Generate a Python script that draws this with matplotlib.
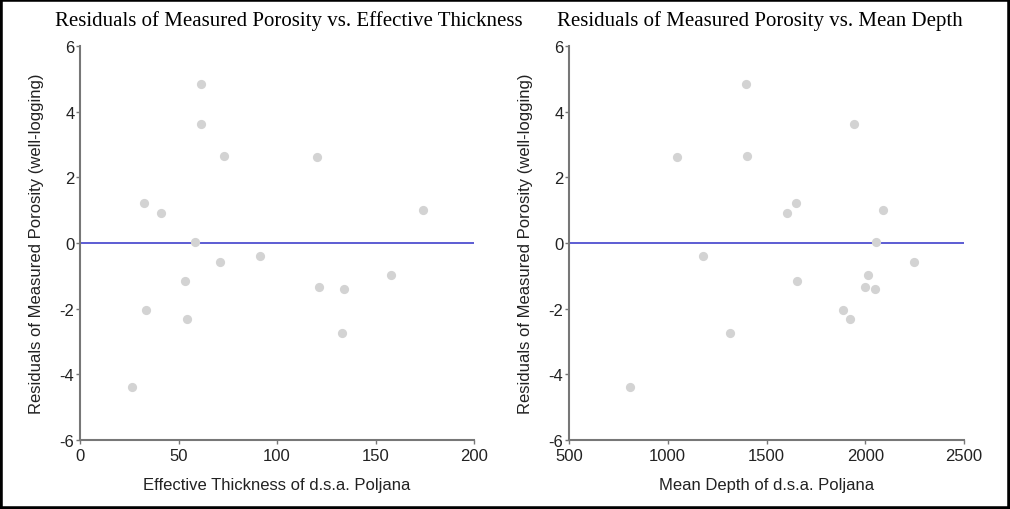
import numpy as np
import matplotlib
matplotlib.use('Agg')
import matplotlib.pyplot as plt
from matplotlib.patches import Rectangle

plt.rcParams['axes.unicode_minus'] = False

# data (one point per well, same residuals in both panels)
thickness = [61.3, 61.3, 73.3, 120.1, 32.3, 41.3, 174.1, 58.2, 71.2, 91.2,
             53.1, 121.2, 134.0, 158.0, 33.3, 54.1, 133.2, 26.4]
depth = [1395, 1945, 1403, 1048, 1649, 1605, 2091, 2053, 2248, 1180,
         1656, 1997, 2049, 2016, 1887, 1921, 1317, 809]
residuals = [4.83, 3.62, 2.65, 2.62, 1.22, 0.91, 1.0, 0.03, -0.58, -0.40,
             -1.16, -1.33, -1.40, -0.96, -2.03, -2.30, -2.74, -4.39]

titles = ['Residuals of Measured Porosity vs. Effective Thickness',
          'Residuals of Measured Porosity vs. Mean Depth']
xlabels = ['Effective Thickness of d.s.a. Poljana', 'Mean Depth of d.s.a. Poljana']
ylabel = 'Residuals of Measured Porosity (well-logging)'
xlims = [(0, 200), (500, 2500)]
xticks = [[0, 50, 100, 150, 200], [500, 1000, 1500, 2000, 2500]]
yticks = [-6, -4, -2, 0, 2, 4, 6]

W, H = 1010, 510
fig = plt.figure(figsize=(W / 100, H / 100), dpi=100)

# axes boxes in pixels: left, right
boxes = [(80, 474), (569, 964)]
top_px, bot_px = 47, 441
title_x = [55, 557]
fs = 12

for i, xs in enumerate([thickness, depth]):
    l, r = boxes[i]
    ax = fig.add_axes([l / W, (H - bot_px) / H, (r - l) / W, (bot_px - top_px) / H])
    ax.scatter(xs, residuals, s=44, color='#d3d3d3', zorder=3, linewidths=0)
    ax.axhline(0, color='#3030c8', lw=1.1, zorder=2)
    ax.set_xlim(*xlims[i])
    ax.set_ylim(-6, 6)
    ax.set_xticks(xticks[i])
    ax.set_yticks(yticks)
    for s in ['top', 'right']:
        ax.spines[s].set_visible(False)
    for s in ['left', 'bottom']:
        ax.spines[s].set_color('#777777')
        ax.spines[s].set_linewidth(1.5)
    ax.tick_params(length=3, width=1, color='#777777', labelsize=fs,
                   labelcolor='#222222', pad=1)
    ax.tick_params(axis='x', pad=3)
    ax.set_xlabel(xlabels[i], fontsize=fs, color='#222222', labelpad=10,
                  family='Liberation Sans')
    ax.set_ylabel(ylabel, fontsize=fs, color='#222222', labelpad=11,
                  family='Liberation Sans')
    for lab in ax.get_xticklabels() + ax.get_yticklabels():
        lab.set_family('Liberation Sans')
    fig.text(title_x[i] / W, 1 - 21 / H, titles[i], fontsize=15,
             family='Liberation Serif', color='#000000', va='center', ha='left')

# black frame round the whole picture
fig.patches.append(Rectangle((0, 0), 1, 1, transform=fig.transFigure,
                             fill=False, edgecolor='black', linewidth=4))

fig.savefig('out.png', dpi=100)
